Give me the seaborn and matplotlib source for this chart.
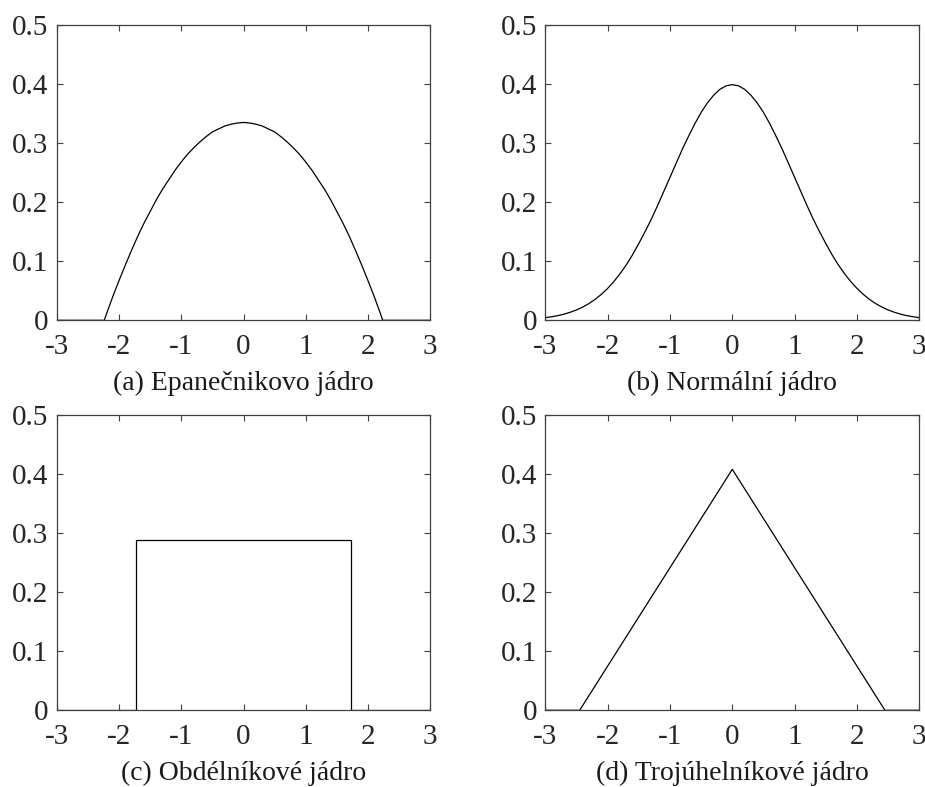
import numpy as np
import pandas as pd
import matplotlib
matplotlib.use("Agg")
import matplotlib.pyplot as plt
import seaborn as sns

# ---- data ----
epa_x = [-3.0, -2.236, -2.2, -2.1, -2.0, -1.9, -1.8, -1.7, -1.6, -1.5, -1.4, -1.3, -1.2, -1.1,
         -1.0, -0.9, -0.8, -0.7, -0.6, -0.5, -0.4, -0.3, -0.2, -0.1, 0.0,
         0.1, 0.2, 0.3, 0.4, 0.5, 0.6, 0.7, 0.8, 0.9, 1.0, 1.1, 1.2, 1.3, 1.4, 1.5, 1.6, 1.7,
         1.8, 1.9, 2.0, 2.1, 2.2, 2.236, 3.0]
epa_y = [0.0, 0.0, 0.011, 0.040, 0.067, 0.093, 0.118, 0.142, 0.164, 0.184, 0.204, 0.222, 0.238,
         0.254, 0.268, 0.281, 0.292, 0.302, 0.311, 0.319, 0.324, 0.329, 0.332, 0.334, 0.335,
         0.334, 0.332, 0.329, 0.324, 0.319, 0.311, 0.302, 0.292, 0.281, 0.268, 0.254, 0.238,
         0.222, 0.204, 0.184, 0.164, 0.142, 0.118, 0.093, 0.067, 0.040, 0.011, 0.0, 0.0]

norm_x = [-3.0, -2.9, -2.8, -2.7, -2.6, -2.5, -2.4, -2.3, -2.2, -2.1, -2.0, -1.9, -1.8, -1.7, -1.6,
          -1.5, -1.4, -1.3, -1.2, -1.1, -1.0, -0.9, -0.8, -0.7, -0.6, -0.5, -0.4, -0.3, -0.2, -0.1,
          0.0, 0.1, 0.2, 0.3, 0.4, 0.5, 0.6, 0.7, 0.8, 0.9, 1.0, 1.1, 1.2, 1.3, 1.4, 1.5, 1.6, 1.7,
          1.8, 1.9, 2.0, 2.1, 2.2, 2.3, 2.4, 2.5, 2.6, 2.7, 2.8, 2.9, 3.0]
norm_y = [0.0044, 0.0060, 0.0079, 0.0104, 0.0136, 0.0175, 0.0224, 0.0283, 0.0355, 0.0440, 0.0540,
          0.0656, 0.0790, 0.0940, 0.111, 0.130, 0.150, 0.171, 0.194, 0.218, 0.242, 0.266, 0.290,
          0.312, 0.333, 0.352, 0.368, 0.381, 0.391, 0.397, 0.399, 0.397, 0.391, 0.381, 0.368, 0.352,
          0.333, 0.312, 0.290, 0.266, 0.242, 0.218, 0.194, 0.171, 0.150, 0.130, 0.111, 0.0940,
          0.0790, 0.0656, 0.0540, 0.0440, 0.0355, 0.0283, 0.0224, 0.0175, 0.0136, 0.0104, 0.0079,
          0.0060, 0.0044]

rect_x = [-3.0, -1.732, -1.732, 1.732, 1.732, 3.0]
rect_y = [0.0, 0.0, 0.289, 0.289, 0.0, 0.0]

tri_x = [-3.0, -2.449, 0.0, 2.449, 3.0]
tri_y = [0.0, 0.0, 0.408, 0.0, 0.0]

captions = ["(a) Epanečnikovo jádro", "(b) Normální jádro",
            "(c) Obdélníkové jádro", "(d) Trojúhelníkové jádro"]
x_ticks = [-3, -2, -1, 0, 1, 2, 3]
x_ticklabels = ["-3", "-2", "-1", "0", "1", "2", "3"]
y_ticks = [0, 0.1, 0.2, 0.3, 0.4, 0.5]
y_ticklabels = ["0", "0.1", "0.2", "0.3", "0.4", "0.5"]

# ---- style ----
sns.set_style("ticks")
plt.rcParams["font.family"] = ["Liberation Serif", "DejaVu Serif"]
plt.rcParams["axes.unicode_minus"] = False

W, H = 925, 787
fig = plt.figure(figsize=(W / 100, H / 100), dpi=100)

# axes boxes in pixels: left, top, right, bottom
boxes = [(56.7, 25, 430.3, 320.3), (545.3, 25, 919.3, 320.3),
         (56.7, 415, 430.3, 710.3), (545.3, 415, 919.3, 710.3)]
series = [(epa_x, epa_y), (norm_x, norm_y), (rect_x, rect_y), (tri_x, tri_y)]
cap_y = [383, 383, 773, 773]

for (l, t, r, b), (xs, ys), cap, cy in zip(boxes, series, captions, cap_y):
    ax = fig.add_axes([l / W, 1 - b / H, (r - l) / W, (b - t) / H])
    df = pd.DataFrame({"x": xs, "y": ys})
    sns.lineplot(data=df, x="x", y="y", ax=ax, sort=False, estimator=None,
                 color="black", linewidth=0.9)
    ax.set_xlim(-3, 3)
    ax.set_ylim(0, 0.5)
    ax.set_xticks(x_ticks)
    ax.set_xticklabels(x_ticklabels)
    ax.set_yticks(y_ticks)
    ax.set_yticklabels(y_ticklabels)
    ax.set_xlabel("")
    ax.set_ylabel("")
    ax.tick_params(direction="in", length=4, width=0.8, colors="#404040",
                   labelsize=21, top=True, right=True)
    ax.tick_params(axis="x", labelcolor="#262626", pad=10)
    ax.tick_params(axis="y", labelcolor="#262626", pad=6)
    for s in ax.spines.values():
        s.set_color("#404040")
        s.set_linewidth(0.9)
        s.set_visible(True)
    fig.text(((l + r) / 2) / W, 1 - cy / H, cap, ha="center", va="center",
             fontsize=20, color="#1a1a1a")

fig.savefig("out.png", dpi=100)
